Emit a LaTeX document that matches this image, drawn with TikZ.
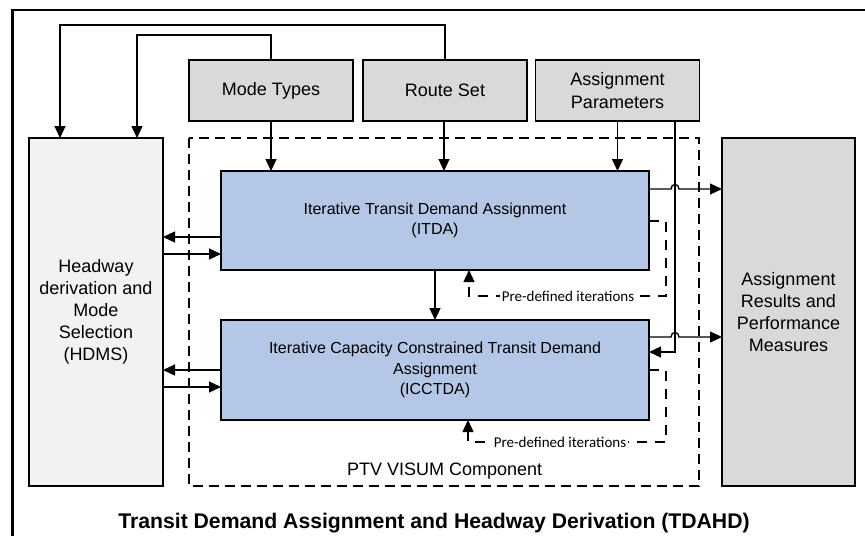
\documentclass[tikz,border=0pt]{standalone}
\usepackage{fontspec}
\setmainfont{Liberation Sans}
\newfontfamily\calibrifont{Carlito}
\usetikzlibrary{arrows.meta,calc}
\definecolor{inputgray}{HTML}{D9D9D9}
\definecolor{hdmsgray}{HTML}{F2F2F2}
\definecolor{visumblue}{HTML}{B4C7E7}

\begin{document}
\begin{tikzpicture}[x=1pt,y=-1pt,
  box/.style={draw,line width=1.3pt,inner sep=0pt,outer sep=0pt,align=center},
  inbox/.style={box,fill=inputgray,minimum width=164pt,minimum height=61pt,
    font=\fontsize{18}{22.5}\selectfont},
  sidebox/.style={box,minimum width=134pt,minimum height=348pt,
    font=\fontsize{18}{22}\selectfont},
  procbox/.style={box,fill=visumblue,minimum width=428pt,minimum height=100pt,
    font=\fontsize{16}{20.5}\selectfont},
  arr/.style={line width=1.3pt,-{Triangle[length=12pt,width=11pt]}},
  loopline/.style={arr,dash pattern=on 10pt off 8pt},
  looplabel/.style={fill=white,inner sep=1.5pt,font=\calibrifont\fontsize{15}{17}\selectfont}
]
% canvas
\path[fill=white,use as bounding box] (0,0) rectangle (865,536);
\draw[line width=2.4pt] (865,10) -- (12.5,10) -- (12.5,536);

% inputs
\node[inbox] (mt) at (271,90.5) {Mode Types};
\node[inbox] (rs) at (445,90.5) {Route Set};
\node[inbox] (ap) at (617.5,90.5) {Assignment\\Parameters};

% side blocks
\node[sidebox,fill=hdmsgray] (hdms) at (96,312)
  {Headway\\derivation and\\Mode\\Selection\\(HDMS)};
\node[sidebox,fill=inputgray,minimum width=133pt] (res) at (788.5,312)
  {Assignment\\Results and\\Performance\\Measures};

% PTV VISUM component frame
\draw[line width=1.3pt,dash pattern=on 10pt off 6pt] (189,138) rectangle (699,486);
\node[font=\fontsize{18}{22}\selectfont,anchor=base west,inner sep=0pt] (ptv) at (347,475) {PTV VISUM Component};

% assignment stages
\node[procbox,minimum height=99pt] (itda) at (435,220.5)
  {Iterative Transit Demand Assignment\\(ITDA)};
\node[procbox] (icc) at (435,370)
  {Iterative Capacity Constrained Transit Demand\\Assignment\\(ICCTDA)};

% title
\node[font=\bfseries\fontsize{21.2}{25}\selectfont,anchor=base,inner sep=0pt] (title) at (434,528)
  {Transit Demand Assignment and Headway Derivation (TDAHD)};

% feedback of inputs to HDMS
\coordinate (t1) at (60,25);
\coordinate (t2) at (137,35);
\draw[arr] (rs.north) |- (t1) -- (t1 |- hdms.north);
\draw[arr] (mt.north) |- (t2) -- (t2 |- hdms.north);

% inputs into ITDA
\draw[arr] (mt.south) -- (mt.south |- itda.north);
\draw[arr] ([xshift=-1pt]rs.south) -- ([xshift=-1pt]rs.south |- itda.north);
\draw[arr] (ap.south) -- (ap.south |- itda.north);

% parameters into ICCTDA
\coordinate (apx) at ($(ap.south)+(57.5,0)$);
\coordinate (c3) at ($(icc.east)+(0,-18)$);
\draw[arr] (apx) |- (c3);

% exchange with HDMS
\coordinate (a1) at ($(itda.west)+(0,16.5)$);
\coordinate (a2) at ($(itda.west)+(0,33.5)$);
\coordinate (b1) at ($(icc.west)+(0,0)$);
\coordinate (b2) at ($(icc.west)+(0,17)$);
\draw[arr] (a1) -- (a1 -| hdms.east);
\draw[arr] (a2 -| hdms.east) -- (a2);
\draw[arr] (b1) -- (b1 -| hdms.east);
\draw[arr] (b2 -| hdms.east) -- (b2);

% ITDA to ICCTDA
\draw[arr] (itda.south) -- (icc.north);

% outputs to results, hopping over the parameter line
\coordinate (r1) at ($(itda.east)+(0,-31.5)$);
\coordinate (r2) at ($(icc.east)+(0,-33)$);
\draw[arr] (r1) -- ($(r1 -| apx)+(-4,0)$)
  .. controls +(0,-6) and +(0,-6) .. ($(r1 -| apx)+(4,0)$) -- (r1 -| res.west);
\draw[arr] (r2) -- ($(r2 -| apx)+(-4,0)$)
  .. controls +(0,-6) and +(0,-6) .. ($(r2 -| apx)+(4,0)$) -- (r2 -| res.west);

% pre-defined iteration loops
\coordinate (f1) at ($(itda.east)+(0,0.5)$);
\coordinate (g1) at (666,296);
\coordinate (h1) at ($(itda.south)+(34,0)$);
\draw[loopline] (f1) -- (f1 -| g1) -- (g1) -- (g1 -| h1) -- (h1);
\node[looplabel] (it1) at (568,296) {Pre-defined iterations};

\coordinate (f2) at ($(icc.east)+(0,0)$);
\coordinate (g2) at (666,442);
\coordinate (h2) at ($(icc.south)+(33,0)$);
\draw[loopline] (f2) -- (f2 -| g2) -- (g2) -- (g2 -| h2) -- (h2);
\node[looplabel] (it2) at (560,442) {Pre-defined iterations};
\end{tikzpicture}
\end{document}
